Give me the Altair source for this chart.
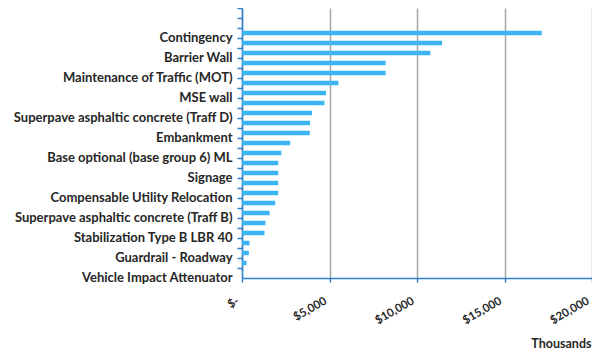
import altair as alt
import pandas as pd

# Categories top-to-bottom; names starting with "_" are unlabeled in the reference
categories = [
    "_blank1", "_blank2",
    "Contingency", "_item01",
    "Barrier Wall", "_item03",
    "Maintenance of Traffic (MOT)", "_item05",
    "MSE wall", "_item07",
    "Superpave asphaltic concrete (Traff D)", "_item09",
    "Embankment", "_item11",
    "Base optional (base group 6) ML", "_item13",
    "Signage", "_item15",
    "Compensable Utility Relocation", "_item17",
    "Superpave asphaltic concrete (Traff B)", "_item19",
    "Stabilization Type B LBR 40", "_item21",
    "Guardrail - Roadway", "_item23",
    "Vehicle Impact Attenuator",
]
# Cost in thousands of dollars
values = [
    None, None,
    17130, 11430,
    10760, 8210,
    8210, 5510,
    4800, 4710,
    4000, 3890,
    3870, 2755,
    2250, 2070,
    2070, 2070,
    2070, 1900,
    1580, 1340,
    1285, 425,
    390, 260,
    30,
]
x_ticks = [0, 5000, 10000, 15000, 20000]

df = pd.DataFrame({"item": categories, "cost": values})

FONT = "Lato"
TEXT = "#262626"
AXIS_BLUE = "#2f80d0"

chart = alt.Chart(df).mark_bar(size=4.5, color="#3ab4f2").encode(
    x=alt.X(
        "cost:Q",
        scale=alt.Scale(domain=[0, 20000], nice=False, zero=True),
        axis=alt.Axis(
            values=x_ticks,
            labelExpr="datum.value == 0 ? '$-\u00a0' : '$' + format(datum.value, ',')",
            labelAngle=330,
            labelAlign="right",
            labelBaseline="middle",
            labelPadding=18,
            labelOffset=-4,
            labelFont=FONT,
            labelFontWeight="bold",
            labelFontSize=11.5,
            labelColor=TEXT,
            tickSize=4,
            tickColor=AXIS_BLUE,
            tickWidth=1.5,
            domainColor=AXIS_BLUE,
            domainWidth=1.5,
            grid=True,
            gridColor="#a6a6a6",
            gridWidth=1.5,
            title="Thousands",
            titleFont=FONT,
            titleFontWeight="bold",
            titleFontSize=12.5,
            titleColor=TEXT,
            titleAnchor="end",
            titleAlign="right",
            titleBaseline="middle",
            titleX=349,
            titleY=65,
        ),
    ),
    y=alt.Y(
        "item:N",
        sort=categories,
        scale=alt.Scale(domain=categories, paddingInner=0, paddingOuter=0),
        axis=alt.Axis(
            labelExpr="test(/^_/, datum.value) ? '' : datum.value",
            bandPosition=0,
            labelOffset=5,
            labelPadding=5,
            labelLimit=400,
            labelFont=FONT,
            labelFontWeight="bold",
            labelFontSize=13,
            labelColor=TEXT,
            tickSize=5,
            tickColor=AXIS_BLUE,
            tickWidth=1.5,
            domainColor=AXIS_BLUE,
            domainWidth=1.5,
            grid=False,
            title=None,
        ),
    ),
).properties(
    width=350,
    height=270,
    autosize=alt.AutoSizeParams(type="none"),
    padding={"left": 234, "top": 0, "right": 0, "bottom": 71},
).configure_view(stroke=None)

chart.save("out.html", embed_options={"renderer": "svg", "actions": False})
